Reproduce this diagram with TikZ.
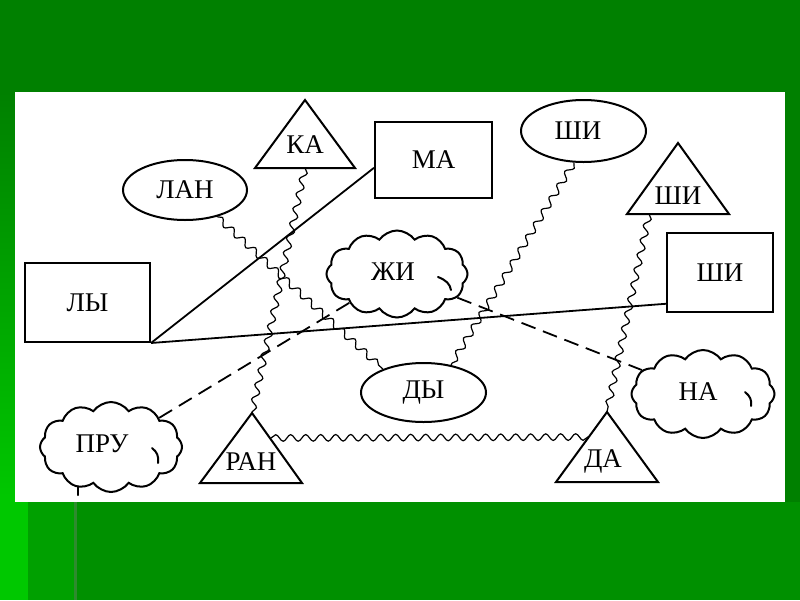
\documentclass[tikz,border=0pt]{standalone}
\usepackage{fontspec}
\setmainfont{Liberation Serif}
\usetikzlibrary{shapes.geometric,shapes.symbols,decorations.pathmorphing,calc}
\definecolor{gtop}{HTML}{008000}
\definecolor{gbot}{HTML}{009000}
\definecolor{gbright}{HTML}{00C800}
\definecolor{gmid}{HTML}{00A000}
\definecolor{gline}{HTML}{2E8B2E}
\begin{document}
\begin{tikzpicture}[x=1pt,y=-1pt,
  font=\fontsize{27}{32}\selectfont,
  shapeline/.style={draw=black, line width=2pt},
  box/.style={shapeline, rectangle, inner sep=0pt},
  oval/.style={shapeline, ellipse, inner sep=0pt},
  puff/.style={shapeline, cloud, cloud puffs=12, cloud puff arc=110, inner sep=0pt},
  curl/.style={draw=black, line width=2pt, line cap=round},
  tritext/.style={inner sep=0pt},
  wavy/.style={line width=1.2pt, decorate, decoration={snake, segment length=15pt, amplitude=3.3pt}},
  solidline/.style={line width=1.8pt},
  dashline/.style={line width=1.8pt, dash pattern=on 15pt off 8pt},
]
\useasboundingbox (0,0) rectangle (800,600);
% background
\fill[gtop] (0,0) rectangle (800,600);
\shade[top color=gtop, bottom color=gbright] (0,92) rectangle (15,502);
\fill[gbright] (0,502) rectangle (28,600);
\fill[gmid] (28,502) rectangle (74,600);
\fill[gline] (74,502) rectangle (77,600);
\fill[gbot] (77,502) rectangle (800,600);
\fill[white] (15,92) rectangle (785,502);

% rectangles
\node[box, minimum width=125pt, minimum height=79pt] (ly) at (87.5,302.5) {ЛЫ};
\node[box, minimum width=117pt, minimum height=76pt] (ma) at (433.5,160) {МА};
\node[box, minimum width=106pt, minimum height=79pt] (shr) at (720,272.5) {ШИ};
% ellipses
\node[oval, minimum width=124pt, minimum height=60pt] (lan) at (185,190) {ЛАН};
\node[oval, minimum width=125pt, minimum height=62pt] (shie) at (583.5,131) {};
\node (shiet) at (578,131) {ШИ};
\node[oval, minimum width=125pt, minimum height=59pt] (dy) at (423.5,392.5) {ДЫ};
% clouds
\node[puff, minimum width=141pt, minimum height=87pt] (zhi) at (397,274) {};
\node (zhit) at (393,272) {ЖИ};
\node[puff, minimum width=143pt, minimum height=88pt] (na) at (703,394) {};
\node (nat) at (698,392) {НА};
\node[puff, minimum width=142pt, minimum height=90pt] (pru) at (111,447) {};
\node (prut) at (102,444) {ПРУ};
% inner curls of the clouds
\draw[curl] (438,277) .. controls (446,280) and (450,284) .. (451,290);
\draw[curl] (152,448) .. controls (157,452) and (159,456) .. (158,463);
\draw[curl] (745,392) .. controls (750,396) and (752,400) .. (751,406);
\draw[curl] (78,487) -- (78,495);

% triangles
\node[tritext] (ka) at (305,145) {КА};
\coordinate (ka-a) at (305,100);
\coordinate (ka-l) at (255,168);
\coordinate (ka-r) at (355,168);
\coordinate (ka-b) at (305,168);
\draw[shapeline] (ka-a) -- (ka-l) -- (ka-r) -- cycle;

\node[tritext] (shit) at (678,196) {ШИ};
\coordinate (shit-a) at (678,143);
\coordinate (shit-l) at (627,214);
\coordinate (shit-r) at (729,214);
\coordinate (shit-b) at (649,214);
\draw[shapeline] (shit-a) -- (shit-l) -- (shit-r) -- cycle;

\node[tritext] (ran) at (251,462) {РАН};
\coordinate (ran-a) at (252,413);
\coordinate (ran-l) at (200,483);
\coordinate (ran-r) at (302,483);
\coordinate (ran-e) at (271,438);
\draw[shapeline] (ran-a) -- (ran-l) -- (ran-r) -- cycle;

\node[tritext] (da) at (603,461) {ДА};
\coordinate (da-a) at (607,412);
\coordinate (da-l) at (556,482);
\coordinate (da-r) at (658,482);
\coordinate (da-w) at (588,437);
\draw[shapeline] (da-a) -- (da-l) -- (da-r) -- cycle;

% connectors
\draw[solidline] (ly.south east) -- ($(ma.north west)!0.6!(ma.south west)$);
\draw[solidline] (ly.south east) -- ($(shr.north west)!0.886!(shr.south west)$);
\draw[wavy] (lan.-40) -- (dy.150);
\draw[wavy] (ka-b) -- (ran-a);
\draw[wavy] (shie.-107) -- (dy.45);
\draw[wavy] (shit-b) -- (da-a);
\draw[wavy] (ran-e) -- (da-w);
\draw[dashline] (pru) -- (zhi);
\draw[dashline] (zhi) -- (na);
\end{tikzpicture}
\end{document}
